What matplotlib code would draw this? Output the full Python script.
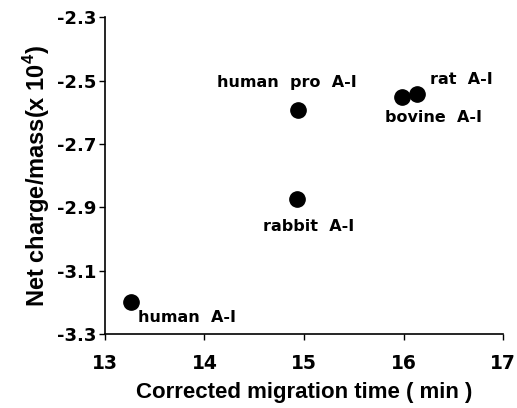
import matplotlib
matplotlib.use("Agg")
import matplotlib.pyplot as plt

plt.rcParams['font.family'] = ['Liberation Sans', 'DejaVu Sans']
plt.rcParams['font.weight'] = 'bold'
plt.rcParams['mathtext.fontset'] = 'custom'
plt.rcParams['mathtext.bf'] = 'Liberation Sans:bold'
plt.rcParams['mathtext.rm'] = 'Liberation Sans:bold'

# data
names = ['human  A-I', 'human  pro  A-I', 'rabbit  A-I', 'bovine  A-I', 'rat  A-I']
mig_time = [13.26, 14.94, 14.93, 15.985, 16.135]
charge_mass = [-3.198, -2.593, -2.873, -2.552, -2.543]
label_x = [13.33, 14.13, 14.59, 15.81, 16.27]
label_y = [-3.248, -2.505, -2.961, -2.618, -2.498]

xticks = [13, 14, 15, 16, 17]
yticks = [-3.3, -3.1, -2.9, -2.7, -2.5, -2.3]

wide = 'DejaVu Sans'   # wider glyphs, closer to the spaced-out lettering

fig = plt.figure(figsize=(5.17, 4.08), dpi=100)
ax = fig.add_axes([0.203, 0.181, 0.770, 0.777])

ax.plot(mig_time, charge_mass, 'o', color='black', markersize=11, clip_on=False)
for n, lx, ly in zip(names, label_x, label_y):
    ax.text(lx, ly, n, fontsize=11.5, fontweight='bold', family=wide,
            va='center', ha='left')

ax.set_xlim(13, 17)
ax.set_ylim(-3.3, -2.3)
ax.set_xticks(xticks)
ax.set_yticks(yticks)
ax.set_xticklabels([str(t) for t in xticks], family=wide, fontsize=13.5, fontweight='bold')
ax.set_yticklabels(['%.1f' % t for t in yticks], family=wide, fontsize=13, fontweight='bold')
ax.tick_params(direction='out', length=4, width=1, colors='black')
ax.tick_params(axis='x', pad=10)
ax.tick_params(axis='y', pad=2)
for s in ['top', 'right']:
    ax.spines[s].set_visible(False)
for s in ['left', 'bottom']:
    ax.spines[s].set_linewidth(1.2)

ax.set_xlabel('Corrected migration time ( min )', fontsize=16, fontweight='bold', labelpad=7)
ax.set_ylabel(r'Net charge/mass(x 10$^\mathbf{4}$)', fontsize=17, fontweight='bold', labelpad=4)

fig.savefig('out.png', dpi=100)
